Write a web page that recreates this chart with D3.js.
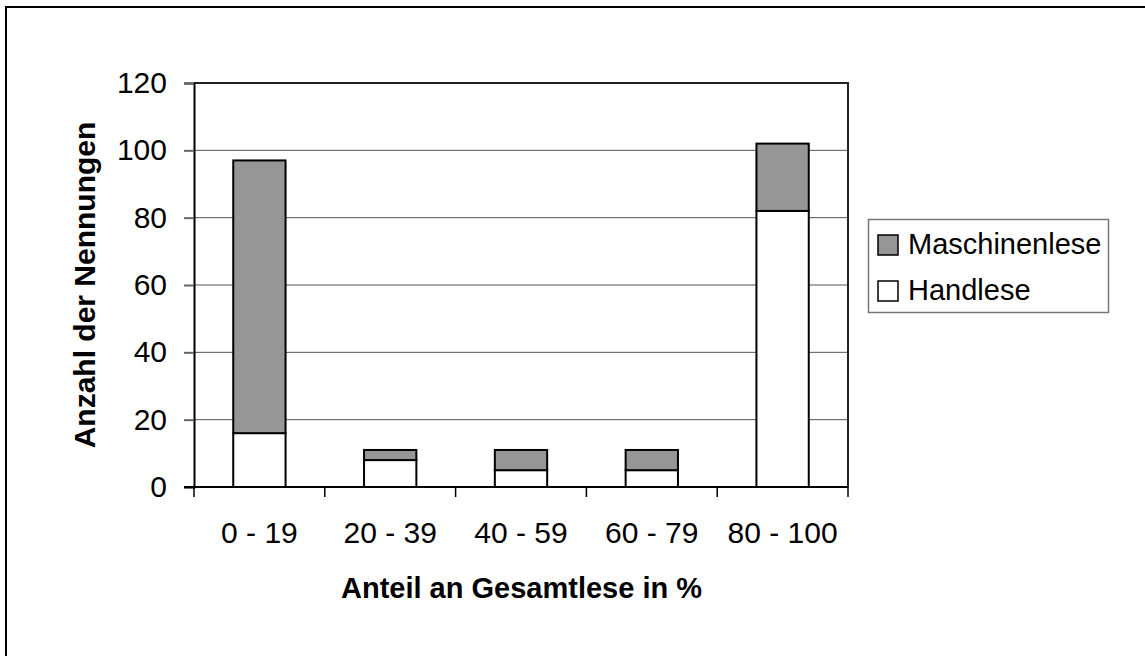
<!DOCTYPE html>
<html>
<head>
<meta charset="utf-8">
<script src="https://cdn.jsdelivr.net/npm/d3@7"></script>
<style>
body { margin: 0; background: #fff; }
svg { display: block; font-family: "Liberation Sans", Arial, sans-serif; }
</style>
</head>
<body>
<svg id="chart" width="1145" height="656"></svg>
<script>
// data
var categories = ["0 - 19", "20 - 39", "40 - 59", "60 - 79", "80 - 100"];
var handlese = [16, 8, 5, 5, 82];
var maschinenlese = [81, 3, 6, 6, 20];
var yTicks = [0, 20, 40, 60, 80, 100, 120];
var seriesNames = ["Maschinenlese", "Handlese"];
var seriesColors = ["#969696", "#ffffff"];

var fontFam = "'Liberation Sans', Arial, sans-serif";
var svg = d3.select("#chart");

// outer frame (right and bottom edges run off the picture)
svg.append("rect")
	.attr("x", 6).attr("y", 7)
	.attr("width", 1160).attr("height", 700)
	.attr("fill", "none")
	.attr("stroke", "#000")
	.attr("stroke-width", 2);

var plot = {left: 194, right: 848, top: 83, bottom: 487};

var xScale = d3.scaleBand()
	.domain(categories)
	.range([plot.left, plot.right])
	.paddingInner(0.6)
	.paddingOuter(0.3);

var yScale = d3.scaleLinear()
	.domain([0, 120])
	.range([plot.bottom, plot.top]);

// gridlines
svg.append("g")
	.selectAll("line")
	.data(yTicks.filter(function(d) { return d > 0 && d < 120; }))
	.enter()
	.append("line")
	.attr("x1", plot.left).attr("x2", plot.right)
	.attr("y1", function(d) { return yScale(d); })
	.attr("y2", function(d) { return yScale(d); })
	.attr("stroke", "#555")
	.attr("stroke-width", 1);

// plot area top + right border
svg.append("path")
	.attr("d", "M" + plot.left + "," + plot.top + "H" + plot.right + "V" + plot.bottom)
	.attr("fill", "none")
	.attr("stroke", "#222")
	.attr("stroke-width", 2);

// stacked bars
var table = categories.map(function(c, i) {
	return {cat: c, Handlese: handlese[i], Maschinenlese: maschinenlese[i]};
});
var stack = d3.stack().keys(["Handlese", "Maschinenlese"])(table);
var fills = {Handlese: seriesColors[1], Maschinenlese: seriesColors[0]};

svg.append("g")
	.selectAll("g")
	.data(stack)
	.enter()
	.append("g")
	.attr("fill", function(s) { return fills[s.key]; })
	.selectAll("rect")
	.data(function(s) { return s; })
	.enter()
	.append("rect")
	.attr("x", function(d) { return xScale(d.data.cat); })
	.attr("width", xScale.bandwidth())
	.attr("y", function(d) { return yScale(d[1]); })
	.attr("height", function(d) { return yScale(d[0]) - yScale(d[1]); })
	.attr("stroke", "#000")
	.attr("stroke-width", 2);

// y axis
var yAxis = svg.append("g")
	.attr("transform", "translate(" + plot.left + ",0)")
	.call(d3.axisLeft(yScale).tickValues(yTicks).tickSize(10).tickPadding(17));
yAxis.select(".domain").attr("stroke", "#000").attr("stroke-width", 2);
yAxis.selectAll(".tick line").attr("stroke", "#666").attr("stroke-width", 2);
yAxis.selectAll(".tick text")
	.attr("font-size", 30)
	.attr("font-family", fontFam)
	.attr("fill", "#000");

// x axis: ticks sit between categories
var xAxis = svg.append("g")
	.attr("transform", "translate(0," + plot.bottom + ")");
xAxis.append("line")
	.attr("x1", plot.left - 10).attr("x2", plot.right)
	.attr("stroke", "#000").attr("stroke-width", 2);
var step = xScale.step();
var edges = d3.range(categories.length + 1).map(function(i) { return plot.left + i * step; });
xAxis.selectAll("line.tk")
	.data(edges)
	.enter()
	.append("line")
	.attr("class", "tk")
	.attr("x1", function(d) { return d; }).attr("x2", function(d) { return d; })
	.attr("y1", 0).attr("y2", 10)
	.attr("stroke", "#000").attr("stroke-width", 1.5);
xAxis.selectAll("text")
	.data(categories)
	.enter()
	.append("text")
	.attr("x", function(d) { return xScale(d) + xScale.bandwidth() / 2; })
	.attr("y", 56)
	.attr("text-anchor", "middle")
	.attr("font-size", 30)
	.attr("font-family", fontFam)
	.text(function(d) { return d; });

// axis titles
svg.append("text")
	.attr("x", (plot.left + plot.right) / 2 + 0.5)
	.attr("y", 598)
	.attr("text-anchor", "middle")
	.attr("font-size", 29)
	.attr("font-weight", "bold")
	.attr("font-family", fontFam)
	.text("Anteil an Gesamtlese in %");

svg.append("text")
	.attr("transform", "translate(95," + (plot.top + plot.bottom) / 2 + ") rotate(-90)")
	.attr("text-anchor", "middle")
	.attr("font-size", 30)
	.attr("font-weight", "bold")
	.attr("font-family", fontFam)
	.text("Anzahl der Nennungen");

// legend
var legend = svg.append("g");
legend.append("rect")
	.attr("x", 868.5).attr("y", 219.5)
	.attr("width", 240).attr("height", 93)
	.attr("fill", "#fff")
	.attr("stroke", "#777")
	.attr("stroke-width", 1.5);
var items = legend.selectAll("g")
	.data(seriesNames)
	.enter()
	.append("g")
	.attr("transform", function(d, i) { return "translate(878," + (235 + i * 46) + ")"; });
items.append("rect")
	.attr("width", 20).attr("height", 20)
	.attr("fill", function(d, i) { return seriesColors[i]; })
	.attr("stroke", "#000")
	.attr("stroke-width", 1.5);
items.append("text")
	.attr("x", 30)
	.attr("y", 19)
	.attr("font-size", 29)
	.attr("font-family", fontFam)
	.text(function(d) { return d; });
</script>
</body>
</html>
